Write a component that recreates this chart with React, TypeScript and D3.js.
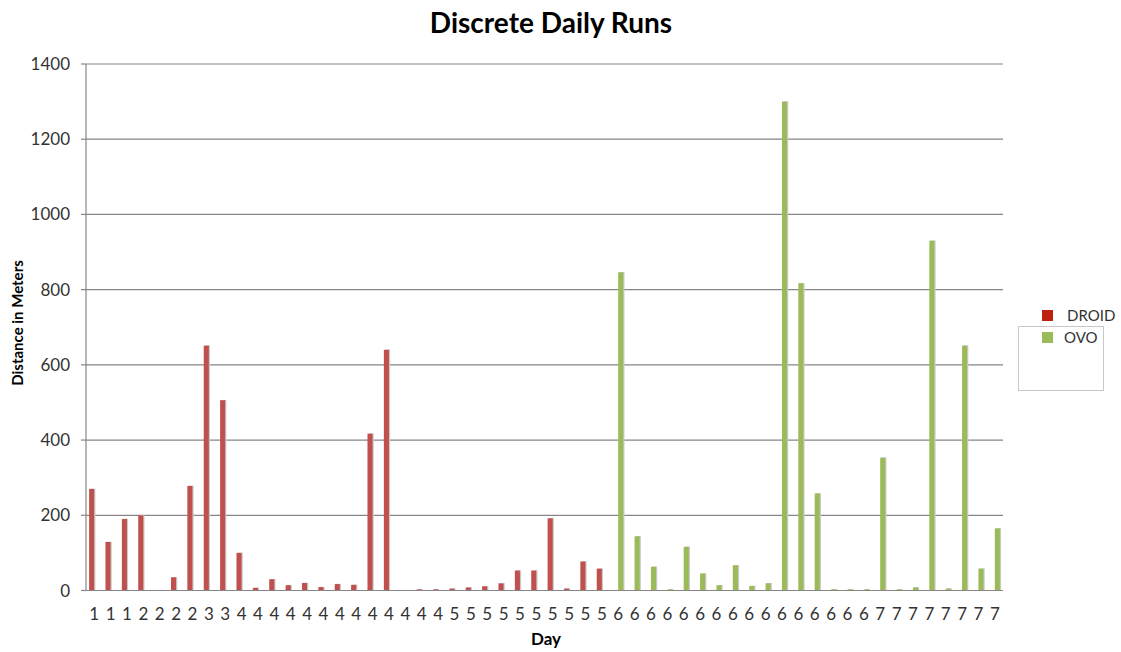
import React, { useEffect, useRef } from "react";
import * as d3 from "d3";

// one label per run, runs are grouped by day
const dayLabels = [
  "1", "1", "1", "2", "2", "2", "2", "3", "3",
  "4", "4", "4", "4", "4", "4", "4", "4", "4", "4", "4", "4", "4",
  "5", "5", "5", "5", "5", "5", "5", "5", "5", "5",
  "6", "6", "6", "6", "6", "6", "6", "6", "6", "6", "6", "6", "6", "6", "6", "6",
  "7", "7", "7", "7", "7", "7", "7", "7",
];

const droidValues = [
  270, 129, 190, 200, 0, 35, 278, 651, 506,
  100, 7, 30, 14, 20, 9, 17, 15, 417, 640, 0, 3, 3,
  5, 8, 11, 19, 53, 53, 192, 5, 77, 58,
  0, 0, 0, 0, 0, 0, 0, 0, 0, 0, 0, 0, 0, 0, 0, 0,
  0, 0, 0, 0, 0, 0, 0, 0,
];

const ovoValues = [
  0, 0, 0, 0, 0, 0, 0, 0, 0,
  0, 0, 0, 0, 0, 0, 0, 0, 0, 0, 0, 0, 0,
  0, 0, 0, 0, 0, 0, 0, 0, 0, 0,
  846, 144, 63, 3, 116, 45, 14, 67, 12, 19, 1300, 817, 258, 3, 3, 3,
  353, 3, 8, 930, 5, 651, 58, 165,
];

const seriesNames = ["DROID", "OVO"];
const barColors = ["#c0504d", "#9bbb59"];
const legendColors = ["#c0200f", "#9bbb59"];
const yTicks = [0, 200, 400, 600, 800, 1000, 1200, 1400];

const App: React.FC = () => {
  const svgRef = useRef<SVGSVGElement | null>(null);

  useEffect(() => {
    const width = 1121;
    const height = 652;
    const left = 86;
    const right = 1003;
    const top = 64;
    const bottom = 590.5;
    const font = "Lato, 'Open Sans', sans-serif";
    const textColor = "#333";
    const lineColor = "#868686";

    const svg = d3.select(svgRef.current);
    svg.selectAll("*").remove();
    svg.attr("width", width).attr("height", height);

    const x0 = d3
      .scaleBand<number>()
      .domain(d3.range(dayLabels.length))
      .range([left, right])
      .paddingInner(0.38)
      .paddingOuter(0.19);
    const x1 = d3.scaleBand<string>().domain(seriesNames).range([0, x0.bandwidth()]);
    const y = d3.scaleLinear().domain([0, 1400]).range([bottom, top]);

    // grid
    svg
      .append("g")
      .selectAll("line")
      .data(yTicks.filter((t) => t > 0))
      .enter()
      .append("line")
      .attr("x1", left)
      .attr("x2", right)
      .attr("y1", (d) => y(d))
      .attr("y2", (d) => y(d))
      .attr("stroke", lineColor)
      .attr("stroke-width", 1.2);

    // bars
    const rows = dayLabels.map((_, i) => [
      { key: seriesNames[0], value: droidValues[i], color: barColors[0] },
      { key: seriesNames[1], value: ovoValues[i], color: barColors[1] },
    ]);

    const groups = svg
      .append("g")
      .selectAll("g")
      .data(rows)
      .enter()
      .append("g")
      .attr("transform", (_, i) => `translate(${x0(i)},0)`);

    const bars = groups
      .selectAll("g")
      .data((d) => d.filter((b) => b.value > 0))
      .enter()
      .append("g");

    // soft shadow, like the office default
    bars
      .append("rect")
      .attr("x", (d) => (x1(d.key) as number) + 1.2)
      .attr("y", (d) => y(d.value) - 0.3)
      .attr("width", x1.bandwidth())
      .attr("height", (d) => bottom - y(d.value) + 0.3)
      .attr("fill", "#c9c9c9");

    bars
      .append("rect")
      .attr("x", (d) => x1(d.key) as number)
      .attr("y", (d) => y(d.value))
      .attr("width", x1.bandwidth())
      .attr("height", (d) => bottom - y(d.value))
      .attr("fill", (d) => d.color);

    // axes lines
    svg
      .append("line")
      .attr("x1", left)
      .attr("x2", left)
      .attr("y1", top)
      .attr("y2", bottom)
      .attr("stroke", lineColor)
      .attr("stroke-width", 1.2);
    svg
      .append("line")
      .attr("x1", left)
      .attr("x2", right)
      .attr("y1", bottom)
      .attr("y2", bottom)
      .attr("stroke", lineColor)
      .attr("stroke-width", 1.2);

    // y ticks + labels
    const yt = svg.append("g").selectAll("g").data(yTicks).enter().append("g");
    yt.append("line")
      .attr("x1", left - 5)
      .attr("x2", left)
      .attr("y1", (d) => y(d))
      .attr("y2", (d) => y(d))
      .attr("stroke", lineColor)
      .attr("stroke-width", 1.2);
    yt.append("text")
      .attr("x", 70)
      .attr("y", (d) => y(d) + 6)
      .attr("text-anchor", "end")
      .attr("font-family", font)
      .attr("font-size", 17)
      .attr("fill", textColor)
      .text((d) => d);

    // x labels
    svg
      .append("g")
      .selectAll("text")
      .data(dayLabels)
      .enter()
      .append("text")
      .attr("x", (_, i) => (x0(i) as number) + x0.bandwidth() / 2)
      .attr("y", 620)
      .attr("text-anchor", "middle")
      .attr("font-family", font)
      .attr("font-size", 17)
      .attr("fill", textColor)
      .text((d) => d);

    // titles
    svg
      .append("text")
      .attr("x", 551)
      .attr("y", 33)
      .attr("text-anchor", "middle")
      .attr("font-family", font)
      .attr("font-weight", "bold")
      .attr("font-size", 28)
      .attr("fill", "#000")
      .text("Discrete Daily Runs");

    svg
      .append("text")
      .attr("x", 546)
      .attr("y", 645)
      .attr("text-anchor", "middle")
      .attr("font-family", font)
      .attr("font-weight", "bold")
      .attr("font-size", 17)
      .attr("fill", "#000")
      .text("Day");

    svg
      .append("text")
      .attr("transform", "translate(23,323) rotate(-90)")
      .attr("text-anchor", "middle")
      .attr("font-family", font)
      .attr("font-weight", "bold")
      .attr("font-size", 15)
      .attr("fill", "#000")
      .text("Distance in Meters");

    // legend
    svg
      .append("rect")
      .attr("x", 1018.5)
      .attr("y", 326.5)
      .attr("width", 85)
      .attr("height", 64)
      .attr("fill", "none")
      .attr("stroke", "#c8c8c8");

    const leg = svg
      .append("g")
      .selectAll("g")
      .data(seriesNames)
      .enter()
      .append("g")
      .attr("transform", (_, i) => `translate(1042,${310 + i * 22})`);
    leg
      .append("rect")
      .attr("width", 11)
      .attr("height", 11)
      .attr("fill", (_, i) => legendColors[i]);
    leg
      .append("text")
      .attr("x", (_, i) => (i === 0 ? 25 : 22))
      .attr("y", 11)
      .attr("font-family", font)
      .attr("font-size", 15)
      .attr("fill", textColor)
      .text((d) => d);
  }, []);

  return <svg ref={svgRef} style={{ position: "absolute", left: 0, top: 0, display: "block" }} />;
};

export default App;
